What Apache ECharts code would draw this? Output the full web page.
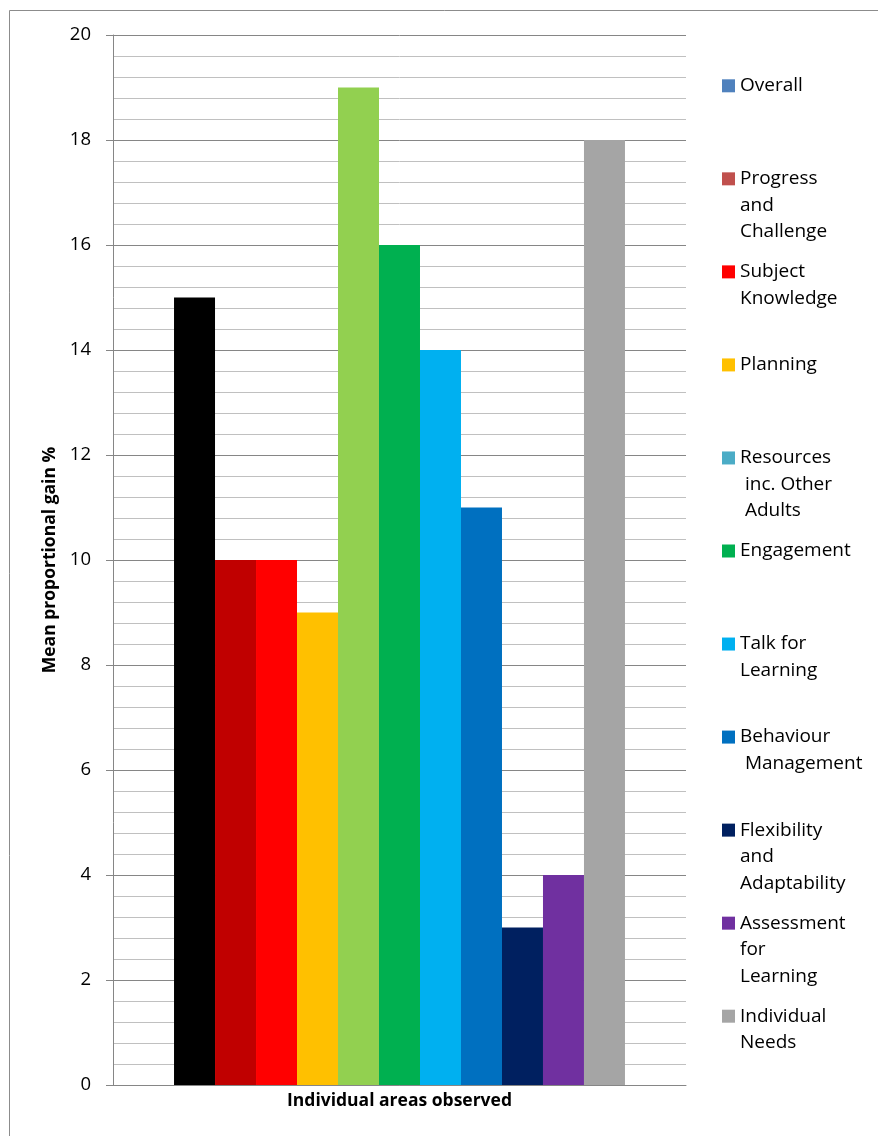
<!DOCTYPE html>
<html>
<head>
<meta charset="utf-8">
<script src="https://cdn.jsdelivr.net/npm/echarts@6/dist/echarts.min.js"></script>
<style>
  html, body { margin: 0; padding: 0; background: #fff; }
  #chart { width: 878px; height: 1136px; }
</style>
</head>
<body>
<div id="chart"></div>
<script>
// Areas observed (legend text, wrapped as shown in the key)
const areas = [
  'Overall',
  'Progress\nand\nChallenge',
  'Subject\nKnowledge',
  'Planning',
  'Resources\n inc. Other\n Adults',
  'Engagement',
  'Talk for\nLearning',
  'Behaviour\n Management',
  'Flexibility\nand\nAdaptability',
  'Assessment\nfor\nLearning',
  'Individual\nNeeds'
];

// Mean proportional gain % for each area
const gains = [15, 10, 10, 9, 19, 16, 14, 11, 3, 4, 18];

// Colours used by the key swatches
const keyColors = ['#4F81BD', '#C0504D', '#FF0000', '#FFC000', '#4BACC6', '#00B050',
                   '#00B0F0', '#0070C0', '#002060', '#7030A0', '#A5A5A5'];

// Colours used by the bars themselves
const barColors = ['#000000', '#C00000', '#FF0000', '#FFC000', '#92D050', '#00B050',
                   '#00B0F0', '#0070C0', '#002060', '#7030A0', '#A5A5A5'];

const yTicks = [0, 2, 4, 6, 8, 10, 12, 14, 16, 18, 20];

const FONT = '"Open Sans", "Noto Sans", sans-serif';
const AXIS_GREY = '#868686';
const LINE_H = 26.5;
const KEY_FIRST = 85.8;
const KEY_STEP = 93.04;

const series = areas.map((name, i) => ({
  name: name,
  type: 'bar',
  barGap: '0%',
  barCategoryGap: '21.3%',
  itemStyle: { color: keyColors[i] },
  data: [{ value: gains[i], itemStyle: { color: barColors[i] } }]
}));

// one key entry per component so every entry sits on its own row
const legends = areas.map((name, i) => {
  const lines = name.split('\n').length;
  return {
    data: [name],
    orient: 'vertical',
    left: 722,
    top: KEY_FIRST + i * KEY_STEP - (2 * lines - 1) * LINE_H / 2,
    padding: 0,
    icon: 'rect',
    itemWidth: 13,
    itemHeight: 13,
    selectedMode: false,
    formatter: n => '\n'.repeat(n.split('\n').length - 1) + n,
    textStyle: { fontFamily: FONT, fontSize: 19, color: '#000', lineHeight: LINE_H }
  };
});

const chart = echarts.init(document.getElementById('chart'), null, { renderer: 'canvas' });
chart.setOption({
  animation: false,
  backgroundColor: '#fff',
  grid: { left: 113, top: 35, right: 192, bottom: 51, containLabel: false },
  legend: legends,
  graphic: [{
    type: 'rect',
    silent: true,
    shape: { x: 9.5, y: 10.5, width: 900, height: 1200 },
    style: { fill: 'none', stroke: '#8c8c8c', lineWidth: 1 }
  }],
  xAxis: {
    type: 'category',
    data: [''],
    name: 'Individual areas observed',
    nameLocation: 'middle',
    nameGap: 7,
    nameTextStyle: { fontFamily: FONT, fontSize: 17.5, fontWeight: 'bold', color: '#000' },
    axisLine: { show: true, lineStyle: { color: AXIS_GREY, width: 1 } },
    axisTick: { show: false },
    axisLabel: { show: false },
    splitLine: { show: false }
  },
  yAxis: {
    type: 'value',
    min: yTicks[0],
    max: yTicks[yTicks.length - 1],
    interval: 2,
    name: 'Mean proportional gain %',
    nameLocation: 'middle',
    nameGap: 51,
    nameRotate: 90,
    nameTextStyle: { fontFamily: FONT, fontSize: 17.5, fontWeight: 'bold', color: '#000' },
    axisLine: { show: true, lineStyle: { color: AXIS_GREY, width: 1 } },
    axisTick: { show: true, length: 7, lineStyle: { color: AXIS_GREY } },
    axisLabel: { margin: 22, fontFamily: FONT, fontSize: 18.5, color: '#000' },
    splitLine: { show: true, lineStyle: { color: AXIS_GREY, width: 1 } },
    minorTick: { show: false, splitNumber: 5 },
    minorSplitLine: { show: true, lineStyle: { color: '#C0C0C0', width: 1 } }
  },
  series: series
});
</script>
</body>
</html>
